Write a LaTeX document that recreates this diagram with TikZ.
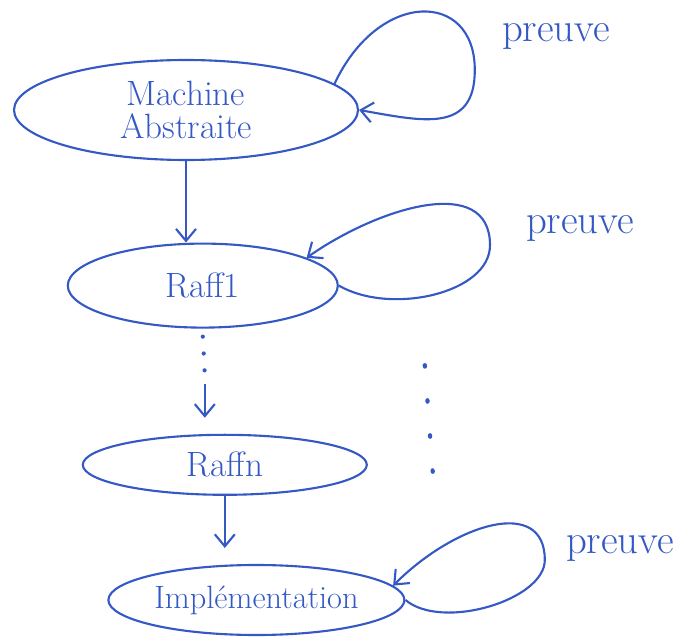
\documentclass[tikz,border=0pt]{standalone}
\usepackage{fontspec}
\usetikzlibrary{shapes.geometric, arrows.meta}
\definecolor{ink}{RGB}{52,88,196}

\begin{document}
\begin{tikzpicture}[
    blob/.style={draw=ink, ellipse, line width=1.5pt, inner sep=0pt, text=ink,
        font=\fontsize{25}{27}\selectfont, align=center},
    flow/.style={draw=ink, line width=1.5pt, -{Straight Barb[length=3mm, width=5mm]}},
    proof/.style={flow},
    gap/.style={draw=ink, line width=3pt, line cap=round, dash pattern=on 0pt off 12pt},
    lbl/.style={text=ink, font=\fontsize{29}{31}\selectfont}
  ]
  \useasboundingbox (0,0) rectangle (17.2,15.95);

  % the chain of machines
  \node[blob, minimum width=8.6cm, minimum height=2.5cm] (MA) at (4.65,13.2) {Machine\\[-4pt]Abstraite};
  \node[blob, minimum width=6.75cm, minimum height=2.1cm] (R1) at (5.07,8.81) {Raff1};
  \node[blob, minimum width=7.1cm, minimum height=1.5cm] (Rn) at (5.62,4.33) {Raffn};
  \node[blob, minimum width=7.4cm, minimum height=1.75cm, font=\fontsize{23}{25}\selectfont]
    (Impl) at (6.41,0.95) {Implémentation};

  % refinement arrows
  \draw[flow] (MA.south) -- (MA.south |- R1.north);
  \coordinate (gapTop) at (5.12,6.35);
  \draw[gap] ([yshift=-2mm]R1.south) -- ([yshift=2.5mm]gapTop);
  \draw[flow, shorten >=4mm] (gapTop) -- (gapTop |- Rn.north);
  \draw[flow, shorten >=4mm] (Rn.south) -- (Rn.south |- Impl.north);

  % proof loops
  \coordinate (lMA) at (11.87,14.2);
  \coordinate (lR1) at (12.25,9.82);
  \coordinate (lImpl) at (13.62,1.95);
  \draw[proof] (MA.10) .. controls +(65:2.6) and +(90:2.0) .. (lMA)
               .. controls +(-90:1.6) and +(-10:1.6) .. (MA.east);
  \draw[proof] (R1.east) .. controls +(-30:1.5) and +(-90:1.2) .. (lR1)
               .. controls +(90:1.8) and +(35:2.2) .. (R1.15);
  \draw[proof] (Impl.east) .. controls +(-40:1.2) and +(-90:1.0) .. (lImpl)
               .. controls +(90:1.6) and +(45:2.2) .. (Impl.6);

  % dotted proof chain
  \coordinate (pTop) at (10.62,6.82);
  \coordinate (pBot) at (10.87,3.45);
  \draw[gap, dash pattern=on 1pt off 24pt] (pTop) -- (pBot);

  \node[lbl] (p1) at (13.9,15.05) {preuve};
  \node[lbl] (p2) at (14.5,10.25) {preuve};
  \node[lbl] (p3) at (15.5,2.25) {preuve};
\end{tikzpicture}
\end{document}
